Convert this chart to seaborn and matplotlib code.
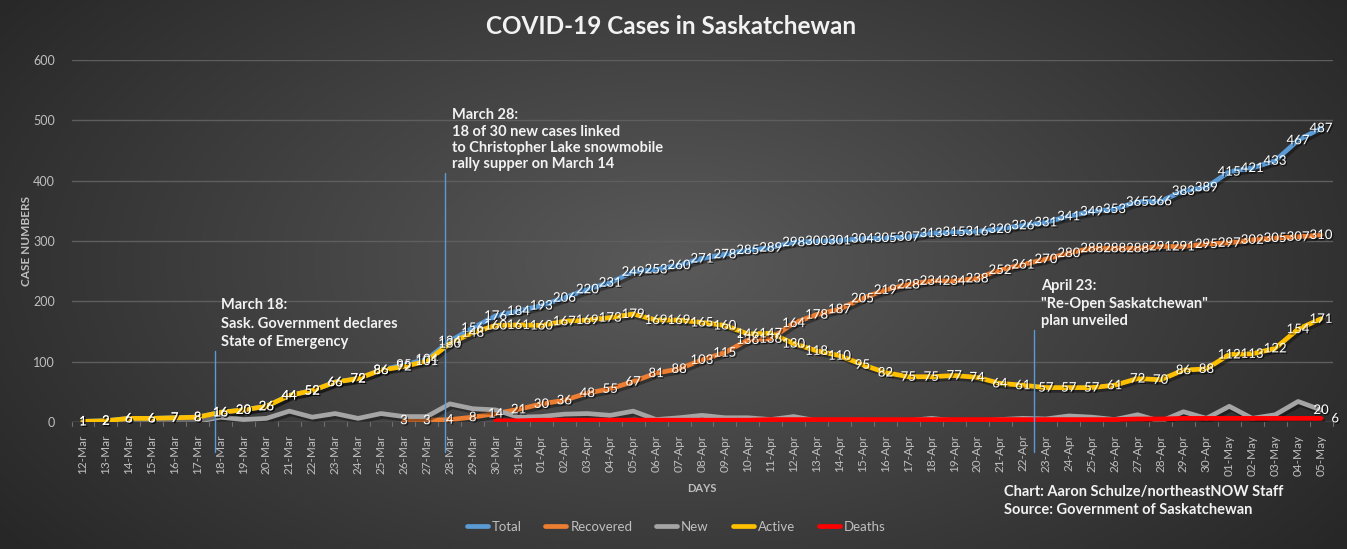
import numpy as np
import pandas as pd
import matplotlib
matplotlib.use("Agg")
import matplotlib.pyplot as plt
import matplotlib.patheffects as pe
from matplotlib.lines import Line2D
import seaborn as sns

# data (12-Mar to 05-May)
days = (["%02d-Mar" % d for d in range(12, 32)] +
        ["%02d-Apr" % d for d in range(1, 31)] +
        ["%02d-May" % d for d in range(1, 6)])
total = [1, 2, 6, 6, 7, 8, 16, 20, 26, 44, 52, 66, 72, 86, 95, 104, 134, 156, 176, 184,
         193, 206, 220, 231, 249, 253, 260, 271, 278, 285, 289, 298, 300, 301, 304, 305, 307,
         313, 315, 316, 320, 326, 331, 341, 349, 353, 365, 366, 383, 389,
         415, 421, 433, 467, 487]
recovered = [None] * 14 + [3, 3, 4, 8, 14, 21,
                           30, 36, 48, 55, 67, 81, 88, 103, 115, 136, 138, 164, 178, 187, 205,
                           219, 228, 234, 234, 238, 252, 261, 270, 280, 288, 288, 288, 291, 291, 295,
                           297, 302, 305, 307, 310]
new = [1, 1, 4, 0, 1, 1, 8, 4, 6, 18, 8, 14, 6, 14, 9, 9, 30, 22, 20, 8,
       9, 13, 14, 11, 18, 4, 7, 11, 7, 7, 4, 9, 2, 1, 3, 1, 2, 6, 2, 1,
       4, 6, 5, 10, 8, 4, 12, 1, 17, 6,
       26, 6, 12, 34, 20]
active = [1, 2, 6, 6, 7, 8, 16, 20, 26, 44, 52, 66, 72, 86, 92, 101, 130, 148, 160, 161,
          160, 167, 169, 173, 179, 169, 169, 165, 160, 146, 147, 130, 118, 110, 95, 82, 75,
          75, 77, 74, 64, 61, 57, 57, 57, 61, 72, 70, 86, 88,
          112, 113, 122, 154, 171]
deaths = [None] * 18 + [2, 2,
                        3, 3, 3, 3, 3, 3, 3, 3, 3, 3, 4, 4, 4, 4, 4, 4, 4, 4, 4, 4,
                        4, 4, 4, 4, 4, 4, 5, 5, 6, 6,
                        6, 6, 6, 6, 6]

series = {"Total": total, "Recovered": recovered, "New": new,
          "Active": active, "Deaths": deaths}
colors = {"Total": "#5b9bd5", "Recovered": "#ed7d31", "New": "#a5a5a5",
          "Active": "#ffc000", "Deaths": "#ff0000"}

rows = []
for name, vals in series.items():
    for i, v in enumerate(vals):
        rows.append({"day": i, "series": name, "value": np.nan if v is None else v})
df = pd.DataFrame(rows).dropna()

sns.set_style("dark")
plt.rcParams['font.family'] = ['Lato', 'DejaVu Sans']

W, H = 1347, 549
fig = plt.figure(figsize=(W / 100, H / 100), dpi=100)

# radial grey background
bg = fig.add_axes([0, 0, 1, 1], zorder=-10)
yy, xx = np.mgrid[0:1:549j, 0:1:1347j]
d = np.sqrt(((xx - 0.5) / 0.62) ** 2 + ((yy - 0.48) / 0.85) ** 2)
d = np.clip(d, 0, 1)
shade = 0x5a / 255 * (1 - d) + 0x27 / 255 * d
bg.imshow(np.dstack([shade, shade, shade]), aspect="auto", extent=[0, 1, 0, 1])
bg.axis("off")

ax = fig.add_axes([71.5 / W, 1 - 422 / H, 1261 / W, 362 / H])
ax.set_facecolor("none")

sns.lineplot(data=df, x="day", y="value", hue="series", hue_order=list(series),
             palette=colors, linewidth=3.4, legend=False, ax=ax, sort=False)
for ln in ax.lines:
    ln.set_solid_capstyle("round")
    ln.set_path_effects([pe.SimpleLineShadow(offset=(1.5, -2), shadow_color="black", alpha=0.35),
                         pe.Normal()])

ax.set_xlim(-0.5, len(days) - 0.5)
ax.set_ylim(0, 600)
ax.set_yticks(range(0, 601, 100))
ax.set_xticks(range(len(days)))
ax.set_xticklabels(days, rotation=90, fontsize=8.5, color="#bfbfbf")
ax.tick_params(axis="y", labelsize=9, colors="#bfbfbf", length=0, pad=12)
ax.tick_params(axis="x", length=0, pad=9)
ax.grid(axis="y", color="#5e5e5e", linewidth=1)
ax.grid(axis="x", visible=False)
for s in ax.spines.values():
    s.set_visible(False)
ax.axhline(0, color="#6e6e6e", linewidth=1, zorder=1)
for b in np.arange(-0.5, len(days), 1):
    ax.plot([b, b], [0, -6], color="#6e6e6e", linewidth=0.8, clip_on=False)

ax.set_xlabel("DAYS", fontsize=8, fontweight="bold", color="#bfbfbf", labelpad=5)
ax.set_ylabel("CASE NUMBERS", fontsize=8.5, fontweight="bold", color="#bfbfbf", labelpad=1)

# data labels
lab_fx = [pe.withSimplePatchShadow(offset=(1, -1), shadow_rgbFace="black", alpha=0.6)]
for name in ["Total", "Recovered", "Active"]:
    for i, v in enumerate(series[name]):
        if v is None:
            continue
        ax.text(i, v, str(v), ha="center", va="center", fontsize=9.5, color="white",
                path_effects=lab_fx, zorder=5)
ax.text(len(days) - 1, new[-1], str(new[-1]), ha="center", va="center", fontsize=9.5,
        color="white", path_effects=lab_fx, zorder=5)
ax.text(len(days) - 1 + 0.45, deaths[-1], str(deaths[-1]), ha="left", va="center", fontsize=9.5,
        color="white", path_effects=lab_fx, zorder=5)

# event markers
events = [(6 - 0.26, 118, "March 18:\nSask. Government declares\nState of Emergency", 1.4),
          (16 - 0.2, 413, "March 28:\n18 of 30 new cases linked\nto Christopher Lake snowmobile\nrally supper on March 14", 1.2),
          (42 - 0.5, 152, "April 23:\n\"Re-Open Saskatchewan\"\nplan unveiled", 1.35)]
for x, top, txt, lsp in events:
    ax.plot([x, x], [-50, top], color="#5b9bd5", linewidth=1, clip_on=False, zorder=2)
    ax.text(x + 0.3, top + 3, txt, ha="left", va="bottom", fontsize=10.5, fontweight="bold",
            color="#f2f2f2", linespacing=lsp, zorder=6)

fig.text(671 / W, 1 - 27 / H, "COVID-19 Cases in Saskatchewan", ha="center", va="center",
         fontsize=17.5, fontweight="bold", color="#f2f2f2")
fig.text(1004 / W, 1 - 501 / H, "Chart: Aaron Schulze/northeastNOW Staff\nSource: Government of Saskatchewan",
         ha="left", va="center", fontsize=10.5, fontweight="bold", color="#f2f2f2", linespacing=1.35)

handles = [Line2D([], [], color=colors[n], linewidth=3.4, solid_capstyle="round") for n in series]
leg = fig.legend(handles, list(series), loc="center", bbox_to_anchor=(676 / W, 1 - 527 / H),
                 ncol=5, frameon=False, fontsize=9.5, handlelength=1.6, handletextpad=0.3,
                 columnspacing=1.8)
for t in leg.get_texts():
    t.set_color("#bfbfbf")

fig.savefig("out.png", dpi=100)
